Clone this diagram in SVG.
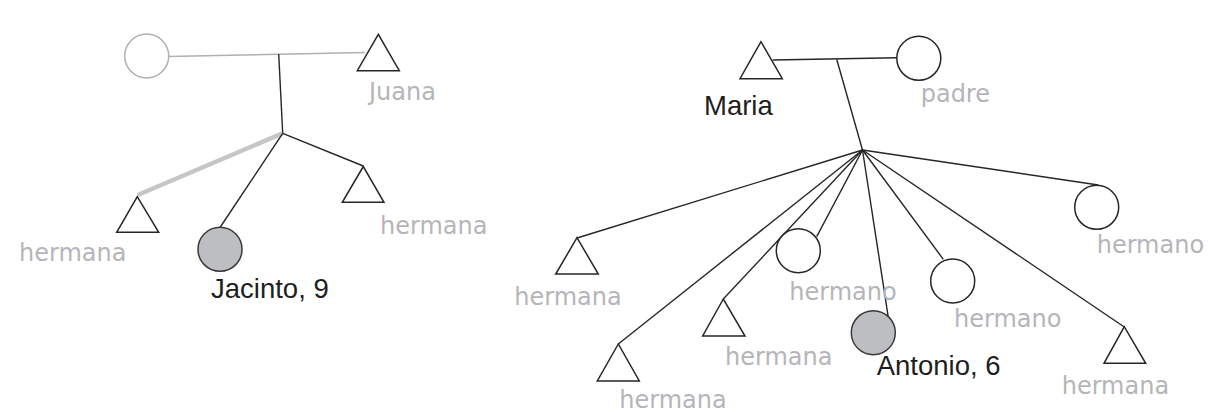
<svg xmlns="http://www.w3.org/2000/svg" width="1208" height="412" viewBox="0 0 1208 412">
<style>
.ln{stroke:#262626;stroke-width:1.4;fill:none}
.tri{stroke:#262626;stroke-width:1.5;fill:#fff;stroke-linejoin:miter}
.cir{stroke:#262626;stroke-width:1.5;fill:#fff}
.ego{stroke:#3a3a3a;stroke-width:1.5;fill:#bdbec1}
.gt{font-family:"DejaVu Sans","Liberation Sans",sans-serif;font-size:24px;fill:#b5b5b9}
.bt{font-family:"Liberation Sans",Arial,sans-serif;font-size:27.5px;fill:#1e1e1e}
</style>
<rect width="1208" height="412" fill="#fff"/>
<g id="connectors">
<line x1="168" y1="56.5" x2="365" y2="52.5" stroke="#b0b0b0" stroke-width="1.5"/>
<line class="ln" x1="278.7" y1="54" x2="282.7" y2="133.3"/>
<line x1="282.7" y1="133.3" x2="137.7" y2="195" stroke="#c6c6c6" stroke-width="4.5"/>
<line class="ln" x1="282.7" y1="133.3" x2="220" y2="227.5"/>
<line class="ln" x1="282.7" y1="133.3" x2="363.3" y2="166"/>
<line class="ln" x1="772.7" y1="60" x2="896.7" y2="57.7"/>
<line class="ln" x1="836.7" y1="59.3" x2="862.5" y2="150"/>
<line class="ln" x1="862.5" y1="150" x2="577" y2="238"/>
<line class="ln" x1="862.5" y1="150" x2="618.3" y2="344"/>
<line class="ln" x1="862.5" y1="150" x2="723.3" y2="299"/>
<line class="ln" x1="862.5" y1="150" x2="816.7" y2="236.7"/>
<line class="ln" x1="862.5" y1="150" x2="888.3" y2="317.3"/>
<line class="ln" x1="862.5" y1="150" x2="943.3" y2="259.3"/>
<line class="ln" x1="862.5" y1="150" x2="1098.3" y2="185"/>
<line class="ln" x1="862.5" y1="150" x2="1124.3" y2="327"/>
</g>
<g id="madre-jacinto">
<circle cx="146.7" cy="56" r="22" fill="#fff" stroke="#b0b0b0" stroke-width="1.5"/>
</g>
<g id="juana">
<polygon class="tri" points="378.3,34.3 357.3,70.7 399.3,70.7"/>
<text class="gt" x="369" y="100">Juana</text>
</g>
<g id="hermana-l1">
<polygon class="tri" points="137.3,196.7 116.7,232.3 158.7,232.3"/>
<text class="gt" x="19" y="260.5">hermana</text>
</g>
<g id="jacinto">
<circle class="ego" cx="220" cy="249.3" r="22"/>
<text class="bt" x="211" y="298">Jacinto, 9</text>
</g>
<g id="hermana-l2">
<polygon class="tri" points="363.3,166.5 342.3,202.3 384,202.3"/>
<text class="gt" x="380" y="234">hermana</text>
</g>
<g id="maria">
<polygon class="tri" points="761,41.7 740,78.7 782.3,78.7"/>
<text class="bt" x="704" y="115">Maria</text>
</g>
<g id="padre">
<circle class="cir" cx="918.8" cy="58.3" r="22"/>
<text class="gt" x="920.7" y="101.7">padre</text>
</g>
<g id="hermana-r1">
<polygon class="tri" points="577,237.7 555.7,274 598.3,274"/>
<text class="gt" x="514.3" y="305">hermana</text>
</g>
<g id="hermana-r2">
<polygon class="tri" points="618.3,344 597.3,381 639.3,381"/>
<text class="gt" x="619.3" y="408.3">hermana</text>
</g>
<g id="hermana-r3">
<polygon class="tri" points="723.3,299 702.7,336 745,336"/>
<text class="gt" x="725" y="365">hermana</text>
</g>
<g id="hermano-r1">
<circle class="cir" cx="798.3" cy="250.7" r="22"/>
<text class="gt" x="789.3" y="300">hermano</text>
</g>
<g id="antonio">
<circle class="ego" cx="873.3" cy="332.7" r="22"/>
<text class="bt" x="876.7" y="375">Antonio, 6</text>
</g>
<g id="hermano-r2">
<circle class="cir" cx="952.7" cy="281" r="22"/>
<text class="gt" x="954" y="326.7">hermano</text>
</g>
<g id="hermano-r3">
<circle class="cir" cx="1096.7" cy="207.3" r="22"/>
<text class="gt" x="1096.7" y="253.3">hermano</text>
</g>
<g id="hermana-r4">
<polygon class="tri" points="1124.3,326.7 1104,363.3 1145.7,363.3"/>
<text class="gt" x="1061.7" y="394.3">hermana</text>
</g>
</svg>
